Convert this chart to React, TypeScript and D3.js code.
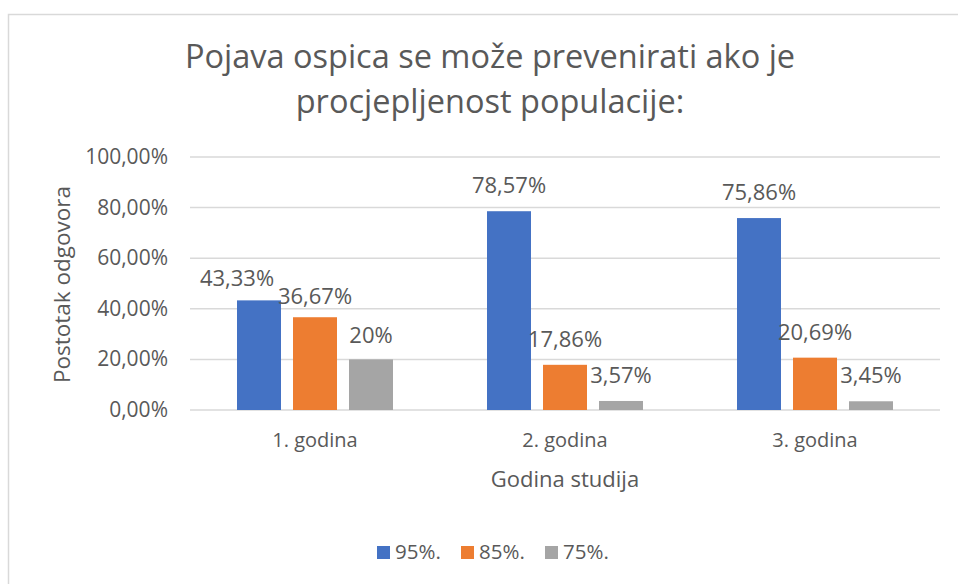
import React from "react";
import * as d3 from "d3";

const categories = ["1. godina", "2. godina", "3. godina"];
const seriesNames = ["95%.", "85%.", "75%."];
const values95 = [43.33, 78.57, 75.86];
const values85 = [36.67, 17.86, 20.69];
const values75 = [20, 3.57, 3.45];
const labels95 = ["43,33%", "78,57%", "75,86%"];
const labels85 = ["36,67%", "17,86%", "20,69%"];
const labels75 = ["20%", "3,57%", "3,45%"];
const yTicks = [0, 20, 40, 60, 80, 100];
const colors = ["#4472C4", "#ED7D31", "#A5A5A5"];

const W = 958;
const H = 584;
const FONT = "'Open Sans', sans-serif";
const TXT = "#595959";

// manual label nudges (Excel-like positioned labels) [series][category] -> [dx, dy]
const labelNudge = [
  [[-22, 4], [0, 0], [0, 0]],
  [[0, 5], [0, 0], [0, 0]],
  [[0, 2], [0, 0], [0, 0]],
];

export default function App() {
  const plot = { left: 190, right: 940, top: 157, bottom: 410 };
  const x0 = d3.scaleBand<string>().domain(categories).range([plot.left, plot.right]).padding(0);
  const bw = x0.bandwidth();
  const x1 = d3.scalePoint<string>().domain(seriesNames).range([bw / 2 - 56, bw / 2 + 56]);
  const barW = 44;
  const y = d3.scaleLinear().domain([0, 100]).range([plot.bottom, plot.top]);
  const fmt = (v: number) => d3.format(".2f")(v).replace(".", ",") + "%";

  const series = [
    { name: seriesNames[0], values: values95, labels: labels95 },
    { name: seriesNames[1], values: values85, labels: labels85 },
    { name: seriesNames[2], values: values75, labels: labels75 },
  ];

  const legendX = [377, 461, 545];

  return (
    <svg
      width={W}
      height={H}
      style={{ position: "absolute", left: 0, top: 0, background: "#fff" }}
      fontFamily={FONT}
    >
      <rect x={0} y={0} width={W} height={H} fill="#fff" />
      <rect x={8.5} y={14.5} width={1200} height={1200} fill="#fff" stroke="#D9D9D9" strokeWidth={1.5} />

      <text x={490} y={68} textAnchor="middle" fontSize={32.5} fill={TXT}>
        Pojava ospica se može prevenirati ako je
      </text>
      <text x={490} y={112.5} textAnchor="middle" fontSize={32.5} fill={TXT}>
        procjepljenost populacije:
      </text>

      {yTicks.map((t) => (
        <g key={t}>
          <line x1={plot.left} x2={plot.right} y1={y(t)} y2={y(t)} stroke="#D9D9D9" strokeWidth={1.5} />
          <text x={168} y={y(t) + 7} textAnchor="end" fontSize={21} fill={TXT}>
            {fmt(t)}
          </text>
        </g>
      ))}

      {series.map((s, si) =>
        categories.map((c, ci) => {
          const cx = (x0(c) as number) + (x1(s.name) as number);
          const v = s.values[ci];
          return (
            <g key={s.name + c}>
              <rect x={cx - barW / 2} y={y(v)} width={barW} height={y(0) - y(v)} fill={colors[si]} />
              <text
                x={cx + labelNudge[si][ci][0]}
                y={y(v) - 18 + labelNudge[si][ci][1]}
                textAnchor="middle"
                fontSize={22}
                fill={TXT}
              >
                {s.labels[ci]}
              </text>
            </g>
          );
        })
      )}

      {categories.map((c) => (
        <text key={c} x={(x0(c) as number) + bw / 2} y={447} textAnchor="middle" fontSize={20} fill={TXT}>
          {c}
        </text>
      ))}

      <text x={(plot.left + plot.right) / 2} y={487} textAnchor="middle" fontSize={22} fill={TXT}>
        Godina studija
      </text>
      <text
        transform={`translate(70, ${(plot.top + plot.bottom) / 2 + 1}) rotate(-90)`}
        textAnchor="middle"
        fontSize={22.5}
        fill={TXT}
      >
        Postotak odgovora
      </text>

      {seriesNames.map((n, i) => (
        <g key={n}>
          <rect x={legendX[i]} y={546} width={13} height={13} fill={colors[i]} />
          <text x={legendX[i] + 18} y={559} fontSize={20.5} fill={TXT}>
            {n}
          </text>
        </g>
      ))}
    </svg>
  );
}
